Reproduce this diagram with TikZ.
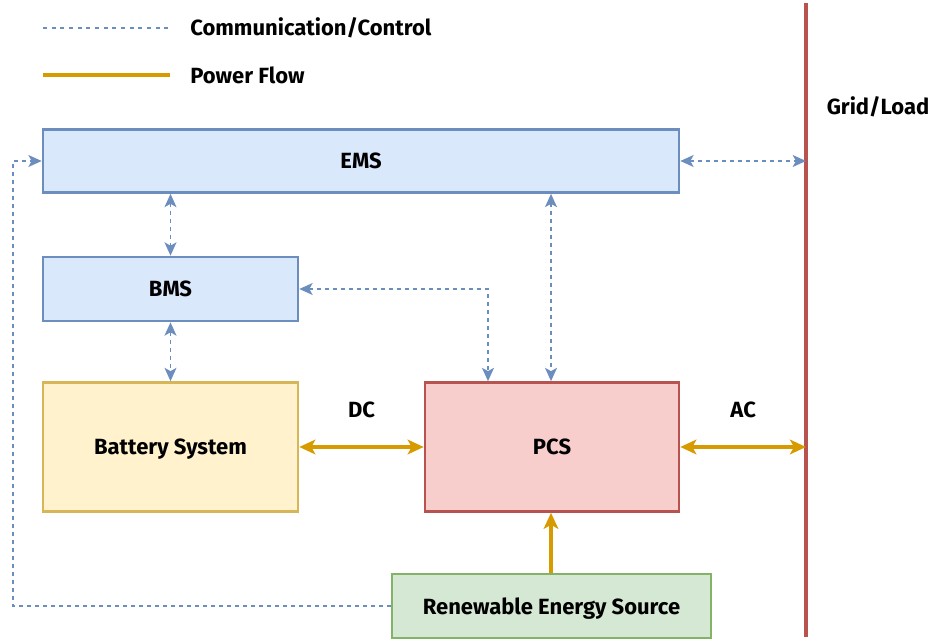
\documentclass[tikz,border=0pt]{standalone}
\usepackage{fontspec}
\setmainfont{Fira Sans}
\usepackage{tikz}
\usepackage{xcolor}
\usetikzlibrary{arrows.meta,positioning}
\definecolor{CtrlBlue}{HTML}{6C8EBF}
\definecolor{CtrlFill}{HTML}{DAE8FC}
\definecolor{BatLine}{HTML}{D6B656}
\definecolor{BatFill}{HTML}{FFF2CC}
\definecolor{PcsLine}{HTML}{B85450}
\definecolor{PcsFill}{HTML}{F8CECC}
\definecolor{ResLine}{HTML}{82B366}
\definecolor{ResFill}{HTML}{D5E8D4}
\definecolor{PowerOrange}{HTML}{D79B00}

\begin{document}
\begin{tikzpicture}[x=0.75pt, y=-0.75pt,
    box/.style={draw=CtrlBlue, fill=CtrlFill, line width=2pt, align=center,
                font=\bfseries\fontsize{16.5}{19}\selectfont, inner sep=0pt,
                text depth=0pt},
    battbox/.style={box, draw=BatLine, fill=BatFill},
    pcsbox/.style={box, draw=PcsLine, fill=PcsFill},
    resbox/.style={box, draw=ResLine, fill=ResFill},
    ctrl/.style={draw=CtrlBlue, line width=1.1pt, dash pattern=on 3pt off 3pt},
    ctrlarrow/.style={ctrl, {Stealth[length=10pt,width=9pt,inset=2.5pt]}-{Stealth[length=10pt,width=9pt,inset=2.5pt]}},
    ctrlone/.style={ctrl, -{Stealth[length=10pt,width=9pt,inset=2.5pt]}},
    power/.style={draw=PowerOrange, line width=2.3pt},
    powerarrow/.style={power, {Stealth[length=12pt,width=11pt,inset=3pt]}-{Stealth[length=12pt,width=11pt,inset=3pt]}},
    powerone/.style={power, -{Stealth[length=12pt,width=11pt,inset=3pt]}},
    lbl/.style={font=\bfseries\fontsize{16.5}{19}\selectfont, inner sep=0pt}
]
\useasboundingbox (0,0) rectangle (950,641);

% legend
\coordinate (ctrlA) at (43,28);
\coordinate (ctrlB) at (170,28);
\coordinate (powA) at (43,75);
\coordinate (powB) at (170,75);
\draw[ctrl, dash pattern=on 3pt off 3.5pt] (ctrlA) -- (ctrlB);
\draw[power] (powA) -- (powB);
\node[lbl, anchor=west] (ctrltext) at (190,28) {Communication/Control};
\node[lbl, anchor=west] (powtext) at (190,75) {Power Flow};

% grid bus
\coordinate (gridtop) at (806,3);
\coordinate (gridbot) at (806,637);
\draw[draw=PcsLine, line width=3pt] (gridtop) -- (gridbot);
\node[lbl] (gridlbl) at (878,107) {Grid/Load};

% blocks
\node[box, minimum width=477pt, minimum height=47.25pt] (ems) at (361,161) {EMS};
\node[box, minimum width=191.25pt, minimum height=48pt] (bms) at (170.5,289) {BMS};
\node[battbox, minimum width=191.25pt, minimum height=96.75pt] (batt) at (170.5,447) {Battery System};
\node[pcsbox, minimum width=190.5pt, minimum height=96.75pt] (pcs) at (552,447) {PCS};
\node[resbox, minimum width=239.25pt, minimum height=48pt] (res) at (551.5,606) {Renewable Energy Source};

% communication
\draw[ctrlarrow] (ems.south -| bms) -- (bms.north);
\draw[ctrlarrow] (bms.south) -- (batt.north);
\draw[ctrlarrow] (ems.south -| 551,0) -- (pcs.north -| 551,0);
\draw[ctrlarrow] (bms.east) -| (pcs.north -| 488,0);
\draw[ctrlarrow] (ems.east) -- (ems.east -| gridtop);
\draw[ctrlone] (res.west) -| (13,161) -- (ems.west);

% power
\draw[powerarrow] (batt.east) -- node[lbl, midway, yshift=28pt] (dclbl) {DC} (pcs.west);
\draw[powerarrow] (pcs.east) -- node[lbl, midway, yshift=28pt] (aclbl) {AC} (pcs.east -| gridtop);
\draw[powerone] (res.north -| 551,0) -- (pcs.south -| 551,0);
\end{tikzpicture}
\end{document}
